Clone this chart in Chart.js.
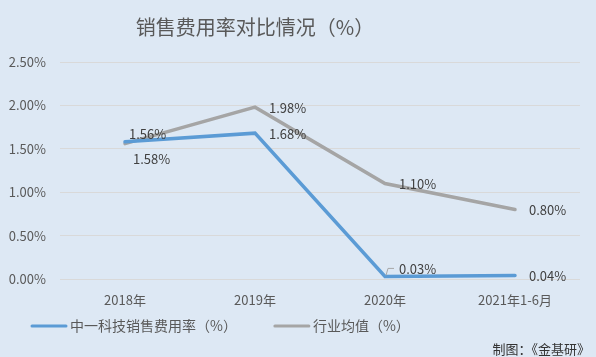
<!DOCTYPE html>
<html><head><meta charset="utf-8">
<script src="https://cdn.jsdelivr.net/npm/chart.js@4/dist/chart.umd.min.js"></script>
<style>html,body{margin:0;padding:0;background:#dde8f4;}#wrap{width:596px;height:357px;}</style>
</head><body><div id="wrap"><canvas id="c" width="596" height="357"></canvas></div>
<script>
const categories = ['2018年', '2019年', '2020年', '2021年1-6月'];
const companyRate = [1.58, 1.68, 0.03, 0.04];
const industryAvg = [1.56, 1.98, 1.10, 0.80];
const yTicks = [0, 0.5, 1.0, 1.5, 2.0, 2.5];
const seriesNames = ['中一科技销售费用率（%）', '行业均值（%）'];
const titleText = '销售费用率对比情况（%）';
const sourceText = '制图：《金基研》';

const FONT = '"Noto Sans CJK SC", "Noto Sans", sans-serif';
// label offsets per series/point: [dx, dy, align]
const labelPos = [
  [[8, 17], [14, 1], [14, -7], [14, 1]],
  [[4, -10], [14, 1], [14, 1], [14, 1]]
];

const decor = {
  id: 'decor',
  beforeDraw(chart) {
    const ctx = chart.ctx;
    ctx.save();
    ctx.fillStyle = '#dde8f4';
    ctx.fillRect(0, 0, chart.width, chart.height);
    ctx.restore();
  },
  afterDatasetsDraw(chart) {
    const ctx = chart.ctx;
    ctx.save();
    ctx.font = '13px ' + FONT;
    ctx.fillStyle = '#404040';
    ctx.textBaseline = 'middle';
    ctx.textAlign = 'left';
    chart.data.datasets.forEach((ds, di) => {
      const meta = chart.getDatasetMeta(di);
      meta.data.forEach((pt, i) => {
        const off = labelPos[di][i];
        ctx.fillText(ds.data[i].toFixed(2) + '%', pt.x + off[0], pt.y + off[1]);
      });
    });
    // leader line for 2020 company label
    const p = chart.getDatasetMeta(0).data[2];
    ctx.strokeStyle = '#a6a6a6';
    ctx.lineWidth = 1;
    ctx.beginPath();
    ctx.moveTo(p.x + 1, p.y - 1);
    ctx.lineTo(p.x + 3, p.y - 8);
    ctx.lineTo(p.x + 9, p.y - 8);
    ctx.stroke();
    ctx.restore();
  },
  afterDraw(chart) {
    const ctx = chart.ctx;
    ctx.save();
    // title
    ctx.font = '20px ' + FONT;
    ctx.fillStyle = '#595959';
    ctx.textAlign = 'center';
    ctx.textBaseline = 'middle';
    ctx.fillText(titleText, 255, 27);
    // legend
    ctx.font = '14px ' + FONT;
    ctx.textAlign = 'left';
    let x = 31;
    const ly = 326;
    chart.data.datasets.forEach((ds, di) => {
      ctx.strokeStyle = ds.borderColor;
      ctx.lineWidth = 3;
      ctx.lineCap = 'round';
      ctx.beginPath();
      ctx.moveTo(x + 1, ly);
      ctx.lineTo(x + 35, ly);
      ctx.stroke();
      ctx.fillStyle = '#595959';
      ctx.fillText(seriesNames[di], x + 39, ly);
      x += 39 + ctx.measureText(seriesNames[di]).width + 37;
    });
    // source
    ctx.font = '13px ' + FONT;
    ctx.fillStyle = '#333333';
    ctx.textAlign = 'right';
    ctx.fillText(sourceText, 590, 349);
    ctx.restore();
  }
};

new Chart(document.getElementById('c'), {
  type: 'line',
  data: {
    labels: categories,
    datasets: [
      { label: seriesNames[0], data: companyRate, borderColor: '#5b9bd5', backgroundColor: '#5b9bd5', borderWidth: 3.5, pointRadius: 0, tension: 0, borderCapStyle: 'round' },
      { label: seriesNames[1], data: industryAvg, borderColor: '#a5a5a5', backgroundColor: '#a5a5a5', borderWidth: 3.5, pointRadius: 0, tension: 0, borderCapStyle: 'round' }
    ]
  },
  options: {
    responsive: false,
    animation: false,
    devicePixelRatio: 1,
    layout: { padding: { top: 62, right: 16, left: 0, bottom: 0 } },
    plugins: { legend: { display: false }, title: { display: false }, tooltip: { enabled: false } },
    scales: {
      x: {
        offset: true,
        grid: { display: false, drawTicks: false },
        border: { display: false },
        ticks: { color: '#595959', font: { size: 13, family: FONT }, padding: 13, maxRotation: 0 },
        afterFit(s) { s.height = 78; }
      },
      y: {
        min: 0, max: 2.5,
        afterBuildTicks(s) { s.ticks = yTicks.map(v => ({ value: v })); },
        grid: { color: '#d9d9d9', drawTicks: false, lineWidth: 1 },
        border: { display: false },
        ticks: { color: '#595959', font: { size: 13, family: FONT }, padding: 14, callback: v => Number(v).toFixed(2) + '%' },
        afterFit(s) { s.width = 60; }
      }
    }
  },
  plugins: [decor]
});
</script></body></html>
